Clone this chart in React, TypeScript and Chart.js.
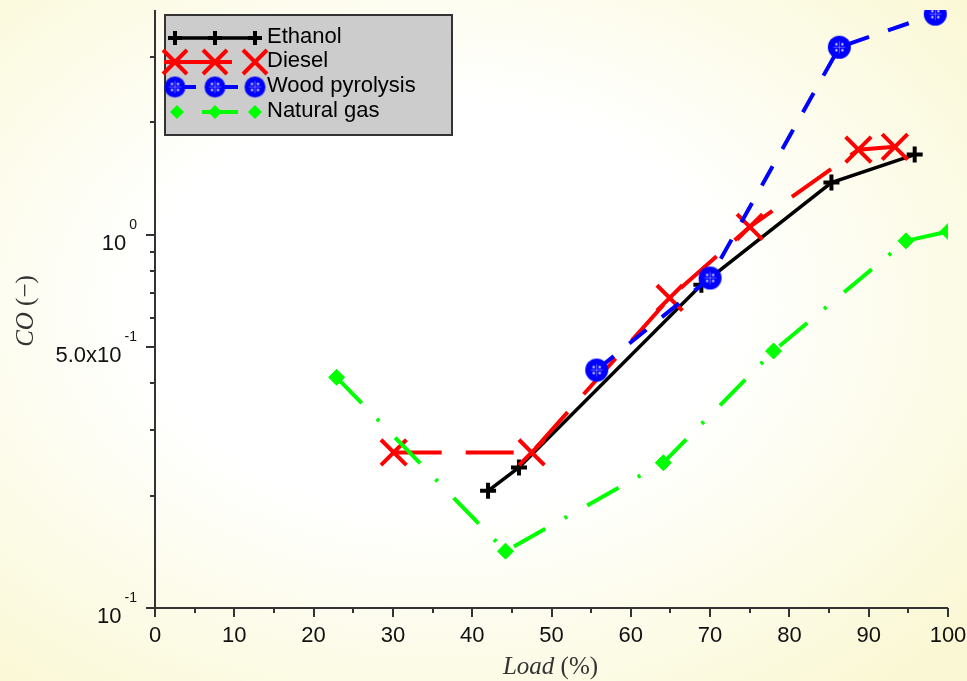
import React, { useEffect, useRef } from 'react';
import { Chart, registerables } from 'chart.js';

Chart.register(...registerables);

// ---------- data ----------
const seriesNames = ['Ethanol', 'Diesel', 'Wood pyrolysis', 'Natural gas'];

const ethanolLoad = [42.0, 45.9, 68.9, 85.3, 95.8];
const ethanolCO = [0.206, 0.238, 0.734, 1.38, 1.64];

const dieselLoad = [30.1, 47.5, 64.9, 75.0, 88.7, 93.3];
const dieselCO = [0.261, 0.261, 0.677, 1.05, 1.69, 1.72];

const woodLoad = [55.7, 70.0, 86.3, 98.4];
const woodCO = [0.434, 0.766, 3.18, 3.9];

const gasLoad = [22.9, 44.2, 64.1, 78.0, 94.7, 100.0];
const gasCO = [0.415, 0.142, 0.245, 0.488, 0.963, 1.02];

const xTickValues = [0, 10, 20, 30, 40, 50, 60, 70, 80, 90, 100];
const xMinorTicks = [5, 15, 25, 35, 45, 55, 65, 75, 85, 95];
const yMajorTicks = [0.1, 0.5, 1];
const yTickBase = ['10', '5.0x10', '10'];
const yTickExp = ['-1', '-1', '0'];
const yMinorTicks = [0.2, 0.3, 0.4, 0.6, 0.7, 0.8, 0.9, 2, 3];

const xTitleMain = 'Load';
const xTitleUnit = ' (%)';
const yTitleMain = 'CO';
const yTitleUnit = ' (\u2212)';

// ---------- styles ----------
const SANS = 'Arial, "Liberation Sans", sans-serif';
const SERIF = '"Liberation Serif", "Times New Roman", serif';

function makeWoodMarker(r: number): HTMLCanvasElement {
  const s = Math.ceil(r * 2 + 2);
  const c = document.createElement('canvas');
  c.width = s;
  c.height = s;
  const g = c.getContext('2d')!;
  const m = s / 2;
  g.fillStyle = '#0000ff';
  g.beginPath();
  g.arc(m, m, r, 0, Math.PI * 2);
  g.fill();
  g.strokeStyle = 'rgba(255,255,255,0.35)';
  g.lineWidth = 1;
  g.beginPath();
  g.moveTo(m - 6, m);
  g.lineTo(m + 6, m);
  g.moveTo(m, m - 6);
  g.lineTo(m, m + 6);
  g.stroke();
  g.fillStyle = '#ffffff';
  const d = 3;
  [[-d, -d], [d, -d], [-d, d], [d, d]].forEach(([dx, dy]) => {
    g.fillRect(m + dx - 1, m + dy - 1, 2, 2);
  });
  return c;
}

function toPts(xs: number[], ys: number[]) {
  return xs.map((x, i) => ({ x, y: ys[i] }));
}

export default function App() {
  const ref = useRef<HTMLCanvasElement | null>(null);

  useEffect(() => {
    if (!ref.current) return;
    const woodMarker = makeWoodMarker(11.5);

    const drawSamplePoint = (ctx: CanvasRenderingContext2D, kind: string, x: number, y: number) => {
      ctx.save();
      ctx.setLineDash([]);
      if (kind === 'plus') {
        ctx.strokeStyle = '#000';
        ctx.lineWidth = 4;
        ctx.beginPath();
        ctx.moveTo(x - 7, y);
        ctx.lineTo(x + 7, y);
        ctx.moveTo(x, y - 7);
        ctx.lineTo(x, y + 7);
        ctx.stroke();
      } else if (kind === 'x') {
        ctx.strokeStyle = '#ff0000';
        ctx.lineWidth = 4;
        const o = 12;
        ctx.beginPath();
        ctx.moveTo(x - o, y - o);
        ctx.lineTo(x + o, y + o);
        ctx.moveTo(x - o, y + o);
        ctx.lineTo(x + o, y - o);
        ctx.stroke();
      } else if (kind === 'circle') {
        const m = makeWoodMarker(10.5);
        ctx.drawImage(m, x - m.width / 2, y - m.height / 2);
      } else if (kind === 'diamond') {
        ctx.fillStyle = '#00ff00';
        const r = 7;
        ctx.beginPath();
        ctx.moveTo(x - r, y);
        ctx.lineTo(x, y - r);
        ctx.lineTo(x + r, y);
        ctx.lineTo(x, y + r);
        ctx.closePath();
        ctx.fill();
      }
      ctx.restore();
    };

    const axesPlugin = {
      id: 'customAxes',
      afterDatasetsDraw(chart: any) {
        const ctx: CanvasRenderingContext2D = chart.ctx;
        const area = chart.chartArea;
        const xs = chart.scales.x;
        const ys = chart.scales.y;
        ctx.save();
        ctx.strokeStyle = '#333333';
        ctx.lineWidth = 2;
        ctx.setLineDash([]);
        // axis lines
        ctx.beginPath();
        ctx.moveTo(area.left, area.top);
        ctx.lineTo(area.left, area.bottom);
        ctx.lineTo(area.right, area.bottom);
        ctx.stroke();
        // ticks
        ctx.beginPath();
        xTickValues.forEach((v) => {
          const px = Math.round(xs.getPixelForValue(v));
          ctx.moveTo(px, area.bottom);
          ctx.lineTo(px, area.bottom + 9);
        });
        xMinorTicks.forEach((v) => {
          const px = Math.round(xs.getPixelForValue(v));
          ctx.moveTo(px, area.bottom);
          ctx.lineTo(px, area.bottom + 5);
        });
        yMajorTicks.forEach((v) => {
          const py = Math.round(ys.getPixelForValue(v));
          ctx.moveTo(area.left, py);
          ctx.lineTo(area.left - 9, py);
        });
        yMinorTicks.forEach((v) => {
          const py = Math.round(ys.getPixelForValue(v));
          ctx.moveTo(area.left, py);
          ctx.lineTo(area.left - 5, py);
        });
        ctx.stroke();

        // x tick labels
        ctx.fillStyle = '#111111';
        ctx.font = `22px ${SANS}`;
        ctx.textAlign = 'center';
        ctx.textBaseline = 'alphabetic';
        xTickValues.forEach((v) => {
          const px = xs.getPixelForValue(v);
          ctx.fillText(String(v), px, area.bottom + 34);
        });

        // y tick labels with superscript
        const rightEdge = 137;
        yMajorTicks.forEach((v, i) => {
          const py = ys.getPixelForValue(v);
          ctx.font = `14px ${SANS}`;
          ctx.textAlign = 'right';
          const ew = ctx.measureText(yTickExp[i]).width;
          ctx.fillText(yTickExp[i], rightEdge, py - 6);
          ctx.font = `22px ${SANS}`;
          ctx.fillText(yTickBase[i], rightEdge - ew - 3, py + 15);
        });

        // axis titles
        ctx.fillStyle = '#333333';
        ctx.textAlign = 'left';
        ctx.font = `italic 25px ${SERIF}`;
        const lw = ctx.measureText(xTitleMain).width;
        ctx.font = `25px ${SERIF}`;
        const uw = ctx.measureText(xTitleUnit).width;
        const cx = (area.left + area.right) / 2 - 1;
        const sx = cx - (lw + uw) / 2;
        ctx.font = `italic 25px ${SERIF}`;
        ctx.fillText(xTitleMain, sx, 674);
        ctx.font = `25px ${SERIF}`;
        ctx.fillText(xTitleUnit, sx + lw, 674);

        ctx.save();
        ctx.translate(33, 311);
        ctx.rotate(-Math.PI / 2);
        ctx.font = `italic 25px ${SERIF}`;
        const cw = ctx.measureText(yTitleMain).width;
        ctx.font = `25px ${SERIF}`;
        const dw = ctx.measureText(yTitleUnit).width;
        const sy = -(cw + dw) / 2;
        ctx.font = `italic 25px ${SERIF}`;
        ctx.fillText(yTitleMain, sy, 0);
        ctx.font = `25px ${SERIF}`;
        ctx.fillText(yTitleUnit, sy + cw, 0);
        ctx.restore();

        // legend box
        const bx = 165, by = 15, bw = 287, bh = 120;
        ctx.fillStyle = '#cccccc';
        ctx.fillRect(bx, by, bw, bh);
        ctx.strokeStyle = '#333333';
        ctx.lineWidth = 2;
        ctx.strokeRect(bx, by, bw, bh);

        const mx = [175, 215, 255];
        // Ethanol
        ctx.strokeStyle = '#000';
        ctx.lineWidth = 3.5;
        ctx.beginPath();
        ctx.moveTo(168, 38);
        ctx.lineTo(257, 38);
        ctx.stroke();
        mx.forEach((x) => drawSamplePoint(ctx, 'plus', x, 38));
        // Diesel
        ctx.strokeStyle = '#ff0000';
        ctx.lineWidth = 4;
        ctx.beginPath();
        ctx.moveTo(164, 62);
        ctx.lineTo(232, 62);
        ctx.stroke();
        mx.forEach((x) => drawSamplePoint(ctx, 'x', x, 62));
        // Wood
        ctx.strokeStyle = '#0000ff';
        ctx.lineWidth = 4;
        ctx.beginPath();
        ctx.moveTo(183, 87);
        ctx.lineTo(196, 87);
        ctx.moveTo(222, 87);
        ctx.lineTo(238, 87);
        ctx.stroke();
        mx.forEach((x) => drawSamplePoint(ctx, 'circle', x, 87));
        // Natural gas
        ctx.strokeStyle = '#00ff00';
        ctx.lineWidth = 4;
        ctx.beginPath();
        ctx.moveTo(202, 112);
        ctx.lineTo(238, 112);
        ctx.stroke();
        drawSamplePoint(ctx, 'diamond', 177, 112);
        drawSamplePoint(ctx, 'diamond', 215, 112);
        drawSamplePoint(ctx, 'diamond', 255, 112);

        ctx.fillStyle = '#000';
        ctx.font = `22px ${SANS}`;
        ctx.textAlign = 'left';
        const baselines = [43, 67, 92, 117];
        seriesNames.forEach((n, i) => ctx.fillText(n, 267, baselines[i]));
        ctx.restore();
      },
    };

    const chart = new Chart(ref.current, {
      type: 'scatter',
      data: {
        datasets: [
          {
            label: seriesNames[0],
            data: toPts(ethanolLoad, ethanolCO),
            showLine: true,
            borderColor: '#000000',
            borderWidth: 3.5,
            pointStyle: 'cross',
            pointRadius: 8,
            pointBorderWidth: 4,
            pointBorderColor: '#000000',
            pointBackgroundColor: '#000000',
            order: 4,
          },
          {
            label: seriesNames[1],
            data: toPts(dieselLoad, dieselCO),
            showLine: true,
            borderColor: '#ff0000',
            borderWidth: 4,
            borderDash: [48, 24],
            pointStyle: 'crossRot',
            pointRadius: 18,
            pointBorderWidth: 4,
            pointBorderColor: '#ff0000',
            pointBackgroundColor: '#ff0000',
            order: 3,
          },
          {
            label: seriesNames[2],
            data: toPts(woodLoad, woodCO),
            showLine: true,
            borderColor: '#0000ff',
            borderWidth: 4,
            borderDash: [22, 20],
            pointStyle: woodMarker as any,
            pointRadius: 11.5,
            order: 2,
          },
          {
            label: seriesNames[3],
            data: toPts(gasLoad, gasCO),
            showLine: true,
            borderColor: '#00ff00',
            borderWidth: 4,
            borderDash: [36, 22, 3, 23],
            pointStyle: 'rectRot',
            pointRadius: 8,
            pointBorderWidth: 1,
            pointBorderColor: '#00ff00',
            pointBackgroundColor: '#00ff00',
            order: 1,
          },
        ],
      },
      options: {
        responsive: false,
        animation: false,
        events: [],
        layout: { autoPadding: false, padding: { left: 155, right: 19, top: 10, bottom: 73 } },
        plugins: {
          legend: { display: false },
          tooltip: { enabled: false },
          title: { display: false },
        },
        scales: {
          x: { type: 'linear', min: 0, max: 100, display: false },
          y: { type: 'logarithmic', min: 0.1, max: 4, display: false },
        },
      },
      plugins: [axesPlugin],
    });
    return () => chart.destroy();
  }, []);

  return (
    <div
      style={{
        position: 'fixed',
        left: 0,
        top: 0,
        width: 967,
        height: 681,
        background:
          'radial-gradient(ellipse 72% 72% at 45% 45%, #ffffff 42%, #faf8d4 100%)',
      }}
    >
      <canvas ref={ref} width={967} height={681} style={{ display: 'block' }} />
    </div>
  );
}
